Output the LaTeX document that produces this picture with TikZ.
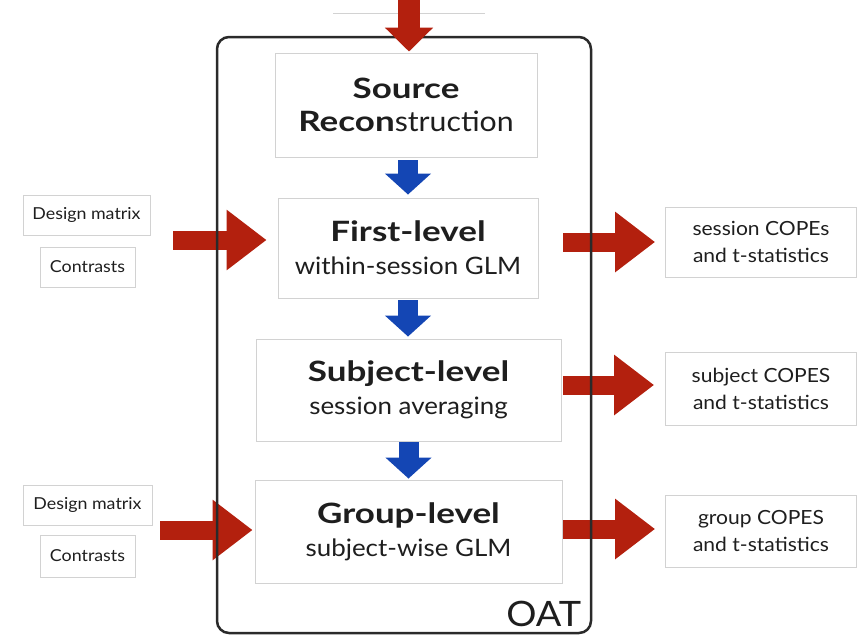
\documentclass[tikz,border=0pt]{standalone}
\usepackage{fontspec}
\setmainfont{Lato}[FakeStretch=1.08,BoldFeatures={FakeStretch=1.25}]
\usetikzlibrary{arrows.meta}
\definecolor{flowred}{HTML}{B3200E}
\definecolor{flowblue}{HTML}{1446B4}
\definecolor{boxgray}{HTML}{D2D2D2}
\definecolor{framegray}{HTML}{2A2A2A}
\definecolor{ink}{HTML}{1E1E1E}

\begin{document}
\begin{tikzpicture}[x=1pt,y=-1pt,
  stage/.style={draw=boxgray, line width=0.9pt, fill=white, rectangle, align=center,
    text=ink, inner sep=0pt, font=\fontsize{28}{33}\selectfont},
  sidebox/.style={draw=boxgray, line width=0.9pt, rectangle, align=center,
    text=ink, inner sep=0pt, minimum height=40pt, font=\fontsize{16.5}{18}\selectfont},
  resultbox/.style={draw=boxgray, line width=0.9pt, rectangle, align=center,
    text=ink, inner sep=0pt, font=\fontsize{19.5}{27}\selectfont},
  feedarrow/.style={flowred, line width=22pt, line cap=butt,
    -{Triangle[width=47pt,length=24pt]}},
  steparrow/.style={flowblue, line width=20pt, line cap=butt,
    -{Triangle[width=45pt,length=21pt]}},
  sidearrow/.style={flowred, line width=19pt, line cap=butt,
    -{Triangle[width=58pt,length=40pt]}},
]
\useasboundingbox (0,0) rectangle (858,635);

% pipeline stages
\node[stage, minimum width=262pt, minimum height=104pt] (src) at (406,105)
  {\textbf{Source}\\\textbf{Recon}struction};
\node[stage, minimum width=260pt, minimum height=100pt] (first) at (408,248)
  {\textbf{First-level}\\{\fontsize{24}{33}\selectfont within-session GLM}};
\node[stage, minimum width=305pt, minimum height=102pt] (subj) at (408.5,390)
  {\textbf{Subject-level}\\{\fontsize{24}{33}\selectfont session averaging}};
\node[stage, minimum width=307pt, minimum height=103pt] (group) at (408.5,531.5)
  {\textbf{Group-level}\\{\fontsize{24}{33}\selectfont subject-wise GLM}};

% inputs on the left
\node[sidebox, minimum width=127pt] (dm1) at (86.5,215) {Design matrix};
\node[sidebox, minimum width=95pt] (con1) at (87.5,267) {Contrasts};
\node[sidebox, minimum width=129pt] (dm2) at (87.5,505) {Design matrix};
\node[sidebox, minimum width=95pt, minimum height=42pt] (con2) at (87.5,556) {Contrasts};

% outputs on the right
\node[resultbox, minimum width=191pt, minimum height=70pt] (out1) at (761,242)
  {session COPEs\\and t-statistics};
\node[resultbox, minimum width=191pt, minimum height=73pt] (out2) at (761,388.5)
  {subject COPES\\and t-statistics};
\node[resultbox, minimum width=191pt, minimum height=72pt] (out3) at (761,531)
  {group COPES\\and t-statistics};

% side arrows (drawn beneath the frame)
\coordinate (in1) at (173,240);
\coordinate (in2) at (160,530);
\draw[sidearrow, shorten >=11pt] (in1) -- (in1 -| first.west);
\draw[sidearrow, shorten >=2pt] (in2) -- (in2 -| group.west);
\draw[sidearrow, shorten <=25pt, shorten >=10pt] (first.east |- out1.west) -- (out1.west);
\draw[sidearrow, shorten <=2pt, shorten >=11pt] (subj.east |- 0,385) -- (out2.west |- 0,385);
\draw[sidearrow, shorten <=1pt, shorten >=10pt] (group.east |- 0,529) -- (out3.west |- 0,529);

% OAT frame
\node[draw=framegray, line width=2.5pt, rounded corners=12pt, rectangle,
  minimum width=374pt, minimum height=596pt, inner sep=0pt] (oat) at (404,335) {};
\node[anchor=base east, inner sep=0pt, text=ink, font=\fontsize{35}{40}\selectfont]
  (oatlabel) at ([xshift=-11pt,yshift=8pt]oat.south east) {OAT};

% data coming in from above
\coordinate (inL) at (333,13);
\coordinate (inR) at (485,13);
\draw[boxgray, line width=0.9pt] (inL) -- (inR);
\coordinate (feed) at (409,0);
\draw[feedarrow, shorten >=1pt] (feed) -- (feed |- src.north);

% stage-to-stage arrows
\draw[steparrow, shorten <=3pt, shorten >=3pt] (first.north |- src.south) -- (first.north);
\draw[steparrow, shorten <=2pt, shorten >=2pt] (first.south) -- (first.south |- subj.north);
\draw[steparrow, shorten <=1pt, shorten >=1pt] (subj.south) -- (subj.south |- group.north);
\end{tikzpicture}
\end{document}
